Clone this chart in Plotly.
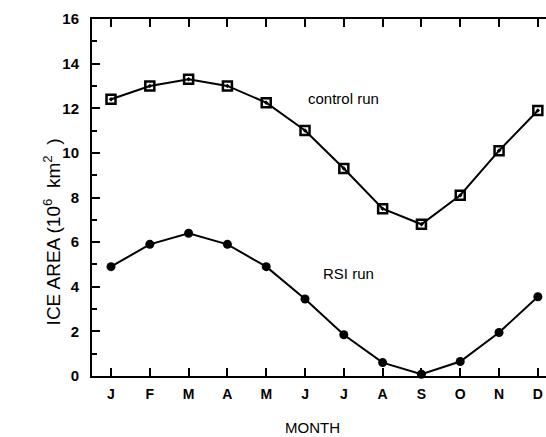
import plotly.graph_objects as go

months = ["J", "F", "M", "A", "M", "J", "J", "A", "S", "O", "N", "D"]
control_run = [12.4, 13.0, 13.3, 13.0, 12.25, 11.0, 9.3, 7.5, 6.8, 8.1, 10.1, 11.9]
rsi_run = [4.9, 5.9, 6.4, 5.9, 4.9, 3.45, 1.85, 0.6, 0.08, 0.65, 1.95, 3.55]
y_ticks = [0, 2, 4, 6, 8, 10, 12, 14, 16]

x = list(range(len(months)))
font_family = "Liberation Sans, Arial, sans-serif"

fig = go.Figure()
fig.add_trace(go.Scatter(
    x=x, y=control_run, mode="lines+markers",
    line=dict(color="black", width=2),
    marker=dict(symbol="square-open-dot", size=9, color="black", line=dict(width=2.5, color="black")),
    showlegend=False, cliponaxis=False,
))
fig.add_trace(go.Scatter(
    x=x, y=rsi_run, mode="lines+markers",
    line=dict(color="black", width=2),
    marker=dict(symbol="circle", size=9, color="black"),
    showlegend=False, cliponaxis=False,
))

fig.add_annotation(x=6.0, y=12.45, text="control run", showarrow=False,
                   font=dict(family=font_family, size=15, color="black"))
fig.add_annotation(x=6.12, y=4.6, text="RSI run", showarrow=False,
                   font=dict(family=font_family, size=15, color="black"))
fig.add_annotation(xref="paper", yref="paper", x=-0.119, y=0.405, textangle=-90,
                   xanchor="left", yanchor="middle",
                   text="ICE AREA (10<sup>6</sup>  km<sup>2</sup>  )", showarrow=False,
                   font=dict(family=font_family, size=19, color="black"))
fig.add_annotation(xref="paper", yref="paper", x=0.485, y=-0.143,
                   xanchor="center", yanchor="middle",
                   text="MONTH", showarrow=False,
                   font=dict(family=font_family, size=15, color="black"))

fig.update_layout(
    width=546, height=437,
    margin=dict(l=92, r=0, t=19, b=61),
    plot_bgcolor="white", paper_bgcolor="white",
    font=dict(family=font_family, color="black"),
    xaxis=dict(
        range=[-0.49, 11.21], tickmode="array", tickvals=x, ticktext=months,
        ticks="inside", ticklen=8, tickwidth=2, tickcolor="black",
        showline=True, linecolor="black", linewidth=2, mirror="ticks",
        showgrid=False, zeroline=False, automargin=False,
        ticklabelstandoff=4,
        tickfont=dict(family=font_family, size=14, weight="bold"),
    ),
    yaxis=dict(
        range=[0, 16], tickmode="array", tickvals=y_ticks,
        ticks="inside", ticklen=8, tickwidth=2, tickcolor="black",
        minor=dict(dtick=1, ticks="inside", ticklen=5, tickwidth=2, tickcolor="black"),
        showline=True, linecolor="black", linewidth=2, mirror=False,
        showgrid=False, zeroline=False, automargin=False,
        ticklabelstandoff=8,
        tickfont=dict(family=font_family, size=15, weight="bold"),
    ),
)

fig.write_html(
    "out.html",
    config={"displayModeBar": False},
    post_script="document.body.style.margin='0';document.body.style.overflow='hidden';",
)
